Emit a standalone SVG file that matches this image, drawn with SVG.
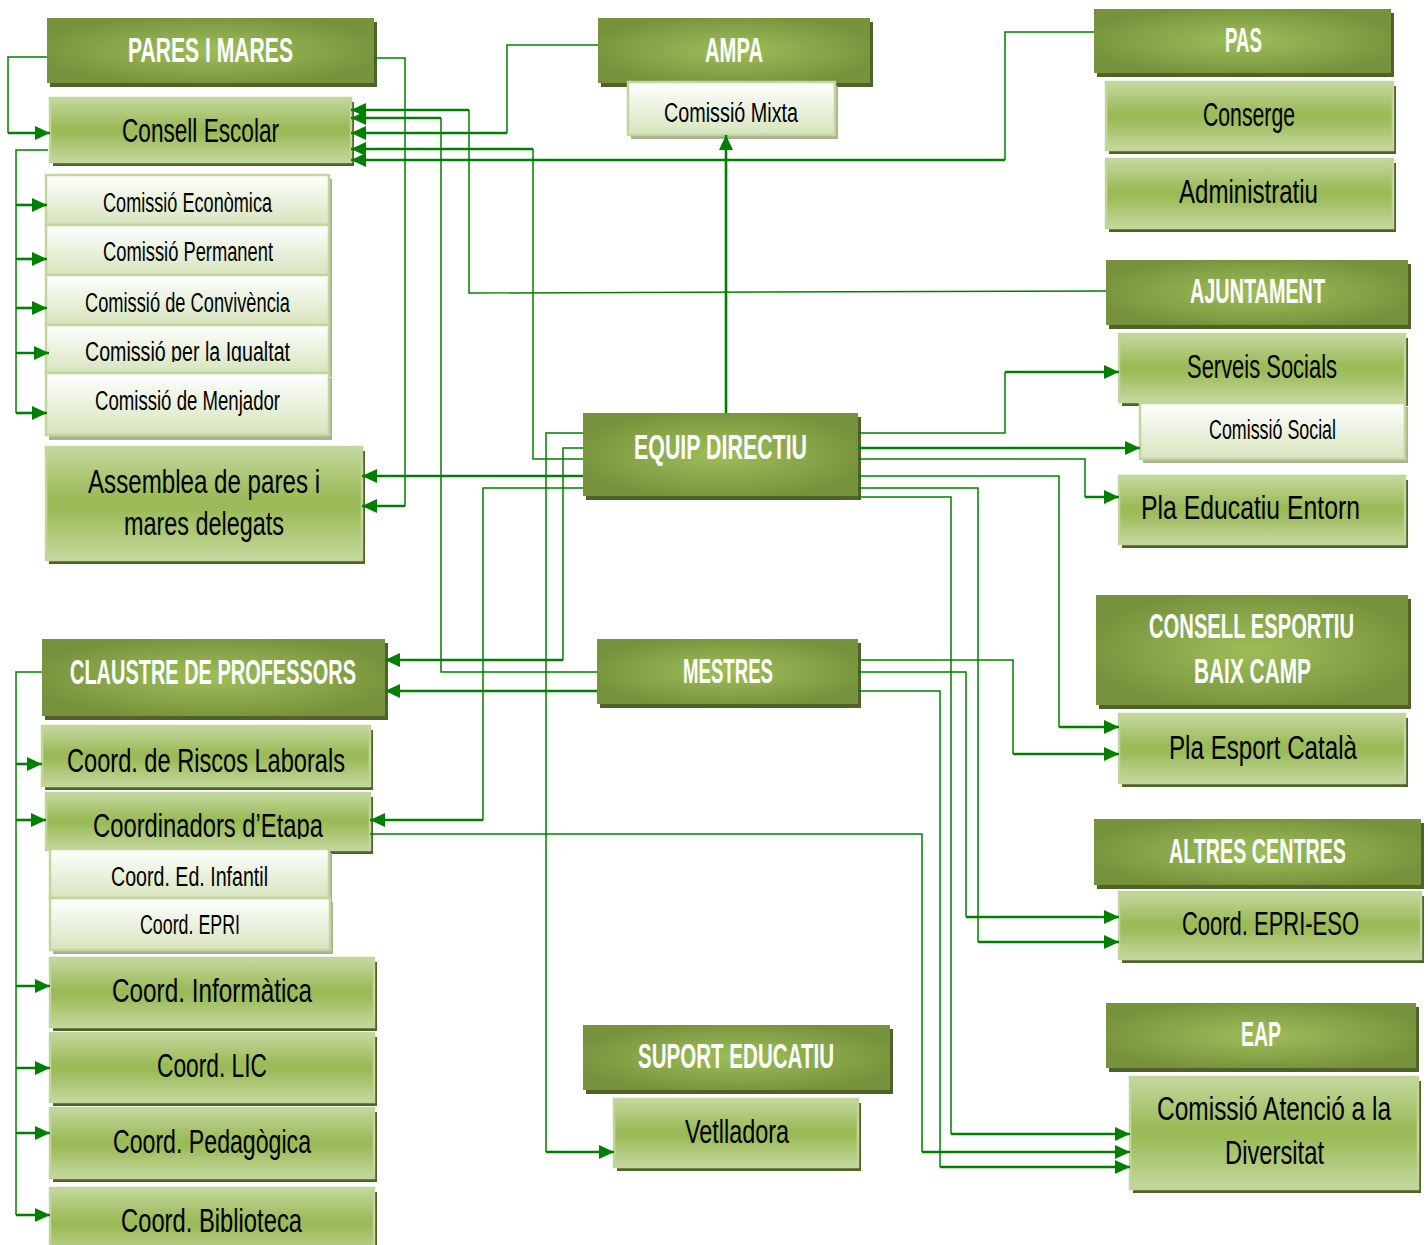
<svg xmlns="http://www.w3.org/2000/svg" width="1428" height="1245" viewBox="0 0 1428 1245">
<defs>
<radialGradient id="gDark" cx="0.5" cy="0.5" r="0.55">
<stop offset="0" stop-color="#9dbd5a"/>
<stop offset="0.25" stop-color="#94b453"/>
<stop offset="1" stop-color="#76923c"/>
</radialGradient>
<linearGradient id="gLight" x1="0" y1="0" x2="0" y2="1">
<stop offset="0" stop-color="#c4d89e"/>
<stop offset="0.45" stop-color="#9bbb59"/>
<stop offset="0.55" stop-color="#9bbb59"/>
<stop offset="1" stop-color="#c4d89e"/>
</linearGradient>
<linearGradient id="gWhite" x1="0" y1="0" x2="0" y2="1">
<stop offset="0" stop-color="#ffffff"/>
<stop offset="1" stop-color="#d7e4bd"/>
</linearGradient>
<marker id="ah" markerUnits="userSpaceOnUse" markerWidth="16" markerHeight="16" refX="15" refY="7" orient="auto">
<path d="M0,0 L15,7 L0,14 z" fill="#008000"/>
</marker>
<clipPath id="cIgu"><rect x="46" y="325" width="283" height="37"/></clipPath>
<clipPath id="cEta"><rect x="46" y="793" width="324" height="46"/></clipPath>
</defs>
<style>
.sd{fill:#4f6228}
.sw{fill:#a6b48f}
.dk{fill:url(#gDark)}
.lt{fill:url(#gLight);stroke:#c2d69b;stroke-width:2.5}
.wh{fill:url(#gWhite);stroke:#c2d69b;stroke-width:2.5}
text{font-family:"Liberation Sans",Arial,sans-serif;text-anchor:middle}
.th{fill:#ffffff;font-weight:bold;font-size:35px}
.tl{fill:#000000;font-size:33px}
.tw{fill:#000000;font-size:27px}
.ln{fill:none;stroke:#008000;stroke-width:1.5}
.ar{fill:none;stroke:#008000;stroke-width:2.6;marker-end:url(#ah)}
</style>
<rect width="1428" height="1245" fill="#ffffff"/>

<g id="pares-i-mares">
<rect class="sd" x="50" y="22" width="327" height="65"/>
<rect class="dk" x="47" y="18" width="327" height="65"/>
<text class="th" transform="translate(210.5,62) scale(0.58,1)" textLength="284.5" lengthAdjust="spacingAndGlyphs">PARES I MARES</text>
</g>
<g id="consell-escolar">
<rect class="sd" x="53" y="102" width="301" height="64"/>
<rect class="lt" x="50" y="98" width="301" height="64"/>
<text class="tl" transform="translate(200.5,142) scale(0.68,1)" textLength="230.9" lengthAdjust="spacingAndGlyphs">Consell Escolar</text>
</g>
<g id="comissio-economica">
<rect class="sw" x="49" y="179" width="283" height="50"/>
<rect class="wh" x="46" y="175" width="283" height="50"/>
<text class="tw" transform="translate(187.5,212) scale(0.68,1)" textLength="248.5" lengthAdjust="spacingAndGlyphs">Comissió Econòmica</text>
</g>
<g id="comissio-permanent">
<rect class="sw" x="49" y="229" width="283" height="50"/>
<rect class="wh" x="46" y="225" width="283" height="50"/>
<text class="tw" transform="translate(188,261) scale(0.68,1)" textLength="250" lengthAdjust="spacingAndGlyphs">Comissió Permanent</text>
</g>
<g id="comissio-convivencia">
<rect class="sw" x="49" y="279" width="283" height="50"/>
<rect class="wh" x="46" y="275" width="283" height="50"/>
<text class="tw" transform="translate(187.5,312) scale(0.68,1)" textLength="301.5" lengthAdjust="spacingAndGlyphs">Comissió de Convivència</text>
</g>
<g id="comissio-igualtat">
<rect class="sw" x="49" y="329" width="283" height="48"/>
<rect class="wh" x="46" y="325" width="283" height="48"/>
<g clip-path="url(#cIgu)">
<text class="tw" transform="translate(187.5,361) scale(0.68,1)" textLength="301.5" lengthAdjust="spacingAndGlyphs">Comissió per la Igualtat</text>
</g>
</g>
<g id="comissio-menjador">
<rect class="sw" x="49" y="378" width="283" height="62"/>
<rect class="wh" x="46" y="373" width="283" height="62"/>
<text class="tw" transform="translate(187.5,410) scale(0.68,1)" textLength="272.1" lengthAdjust="spacingAndGlyphs">Comissió de Menjador</text>
</g>
<g id="assemblea">
<rect class="sd" x="49" y="451" width="316" height="113"/>
<rect class="lt" x="46" y="447" width="316" height="113"/>
<text class="tl" transform="translate(204,493) scale(0.68,1)" textLength="341.2" lengthAdjust="spacingAndGlyphs">Assemblea de pares i</text>
<text class="tl" transform="translate(204,535) scale(0.68,1)" textLength="235.3" lengthAdjust="spacingAndGlyphs">mares delegats</text>
</g>

<g id="ampa">
<rect class="sd" x="601" y="22" width="272" height="65"/>
<rect class="dk" x="598" y="18" width="272" height="65"/>
<text class="th" transform="translate(734,62) scale(0.58,1)" textLength="100" lengthAdjust="spacingAndGlyphs">AMPA</text>
</g>
<g id="comissio-mixta">
<rect class="sw" x="631" y="86" width="207" height="53"/>
<rect class="wh" x="628" y="82" width="207" height="53"/>
<text class="tw" transform="translate(731,122) scale(0.68,1)" textLength="197.1" lengthAdjust="spacingAndGlyphs">Comissió Mixta</text>
</g>

<g id="pas">
<rect class="sd" x="1097" y="13" width="297" height="64"/>
<rect class="dk" x="1094" y="9" width="297" height="64"/>
<text class="th" transform="translate(1243.5,52) scale(0.58,1)" textLength="63.8" lengthAdjust="spacingAndGlyphs">PAS</text>
</g>
<g id="conserge">
<rect class="sd" x="1109" y="86" width="287" height="68"/>
<rect class="lt" x="1106" y="82" width="287" height="68"/>
<text class="tl" transform="translate(1249,126) scale(0.68,1)" textLength="135.3" lengthAdjust="spacingAndGlyphs">Conserge</text>
</g>
<g id="administratiu">
<rect class="sd" x="1109" y="163" width="287" height="69"/>
<rect class="lt" x="1106" y="159" width="287" height="69"/>
<text class="tl" transform="translate(1248.5,203) scale(0.68,1)" textLength="204.4" lengthAdjust="spacingAndGlyphs">Administratiu</text>
</g>

<g id="ajuntament">
<rect class="sd" x="1109" y="264" width="302" height="65"/>
<rect class="dk" x="1106" y="260" width="302" height="65"/>
<text class="th" transform="translate(1257.5,303) scale(0.58,1)" textLength="232.8" lengthAdjust="spacingAndGlyphs">AJUNTAMENT</text>
</g>
<g id="serveis-socials">
<rect class="sd" x="1122" y="338" width="286" height="68"/>
<rect class="lt" x="1119" y="334" width="286" height="68"/>
<text class="tl" transform="translate(1262,378) scale(0.68,1)" textLength="220.6" lengthAdjust="spacingAndGlyphs">Serveis Socials</text>
</g>
<g id="comissio-social">
<rect class="sw" x="1143" y="407" width="265" height="56"/>
<rect class="wh" x="1140" y="403" width="265" height="56"/>
<text class="tw" transform="translate(1272.5,439) scale(0.68,1)" textLength="186.8" lengthAdjust="spacingAndGlyphs">Comissió Social</text>
</g>
<g id="pla-educatiu-entorn">
<rect class="sd" x="1122" y="480" width="286" height="68"/>
<rect class="lt" x="1119" y="476" width="286" height="68"/>
<text class="tl" transform="translate(1250.5,519) scale(0.68,1)" textLength="322" lengthAdjust="spacingAndGlyphs">Pla Educatiu Entorn</text>
</g>

<g id="equip-directiu">
<rect class="sd" x="586" y="417" width="275" height="83"/>
<rect class="dk" x="583" y="413" width="275" height="83"/>
<text class="th" transform="translate(720.5,459) scale(0.58,1)" textLength="298.3" lengthAdjust="spacingAndGlyphs">EQUIP DIRECTIU</text>
</g>
<g id="mestres">
<rect class="sd" x="600" y="643" width="261" height="65"/>
<rect class="dk" x="597" y="639" width="261" height="65"/>
<text class="th" transform="translate(728,683) scale(0.58,1)" textLength="155.2" lengthAdjust="spacingAndGlyphs">MESTRES</text>
</g>

<g id="consell-esportiu">
<rect class="sd" x="1099" y="599" width="312" height="110"/>
<rect class="dk" x="1096" y="595" width="312" height="110"/>
<text class="th" transform="translate(1251.5,638) scale(0.58,1)" textLength="353.4" lengthAdjust="spacingAndGlyphs">CONSELL ESPORTIU</text>
<text class="th" transform="translate(1252.5,683) scale(0.58,1)" textLength="201.7" lengthAdjust="spacingAndGlyphs">BAIX CAMP</text>
</g>
<g id="pla-esport-catala">
<rect class="sd" x="1122" y="718" width="286" height="69"/>
<rect class="lt" x="1119" y="714" width="286" height="69"/>
<text class="tl" transform="translate(1263,759) scale(0.68,1)" textLength="276.5" lengthAdjust="spacingAndGlyphs">Pla Esport Català</text>
</g>
<g id="altres-centres">
<rect class="sd" x="1097" y="823" width="327" height="66"/>
<rect class="dk" x="1094" y="819" width="327" height="66"/>
<text class="th" transform="translate(1257.5,863) scale(0.58,1)" textLength="305.2" lengthAdjust="spacingAndGlyphs">ALTRES CENTRES</text>
</g>
<g id="coord-epri-eso">
<rect class="sd" x="1122" y="896" width="302" height="67"/>
<rect class="lt" x="1119" y="892" width="302" height="67"/>
<text class="tl" transform="translate(1270.5,935) scale(0.68,1)" textLength="260.3" lengthAdjust="spacingAndGlyphs">Coord. EPRI-ESO</text>
</g>
<g id="eap">
<rect class="sd" x="1109" y="1007" width="310" height="65"/>
<rect class="dk" x="1106" y="1003" width="310" height="65"/>
<text class="th" transform="translate(1261,1046) scale(0.58,1)" textLength="69" lengthAdjust="spacingAndGlyphs">EAP</text>
</g>
<g id="comissio-atencio-diversitat">
<rect class="sd" x="1133" y="1081" width="288" height="112"/>
<rect class="lt" x="1130" y="1077" width="288" height="112"/>
<text class="tl" transform="translate(1274,1120) scale(0.68,1)" textLength="344.1" lengthAdjust="spacingAndGlyphs">Comissió Atenció a la</text>
<text class="tl" transform="translate(1274.5,1164) scale(0.68,1)" textLength="145.6" lengthAdjust="spacingAndGlyphs">Diversitat</text>
</g>

<g id="suport-educatiu">
<rect class="sd" x="586" y="1029" width="307" height="65"/>
<rect class="dk" x="583" y="1025" width="307" height="65"/>
<text class="th" transform="translate(736,1068) scale(0.58,1)" textLength="337.9" lengthAdjust="spacingAndGlyphs">SUPORT EDUCATIU</text>
</g>
<g id="vetlladora">
<rect class="sd" x="617" y="1103" width="244" height="68"/>
<rect class="lt" x="614" y="1099" width="244" height="68"/>
<text class="tl" transform="translate(737,1143) scale(0.68,1)" textLength="152.9" lengthAdjust="spacingAndGlyphs">Vetlladora</text>
</g>

<g id="claustre">
<rect class="sd" x="45" y="643" width="343" height="77"/>
<rect class="dk" x="42" y="639" width="343" height="77"/>
<text class="th" transform="translate(213,684) scale(0.58,1)" textLength="493.1" lengthAdjust="spacingAndGlyphs">CLAUSTRE DE PROFESSORS</text>
</g>
<g id="coord-riscos">
<rect class="sd" x="45" y="730" width="328" height="60"/>
<rect class="lt" x="42" y="726" width="328" height="60"/>
<text class="tl" transform="translate(206,772) scale(0.68,1)" textLength="408.8" lengthAdjust="spacingAndGlyphs">Coord. de Riscos Laborals</text>
</g>
<g id="coordinadors-etapa">
<rect class="sd" x="49" y="797" width="324" height="57"/>
<rect class="lt" x="46" y="793" width="324" height="57"/>
<g clip-path="url(#cEta)">
<text class="tl" transform="translate(208,837) scale(0.68,1)" textLength="338.2" lengthAdjust="spacingAndGlyphs">Coordinadors d’Etapa</text>
</g>
</g>
<g id="coord-ed-infantil">
<rect class="sw" x="53" y="853" width="279" height="49"/>
<rect class="wh" x="50" y="849" width="279" height="49"/>
<text class="tw" transform="translate(189.5,886) scale(0.68,1)" textLength="230.9" lengthAdjust="spacingAndGlyphs">Coord. Ed. Infantil</text>
</g>
<g id="coord-epri">
<rect class="sw" x="53" y="902" width="280" height="52"/>
<rect class="wh" x="50" y="898" width="280" height="52"/>
<text class="tw" transform="translate(190,934) scale(0.68,1)" textLength="147.1" lengthAdjust="spacingAndGlyphs">Coord. EPRI</text>
</g>
<g id="coord-informatica">
<rect class="sd" x="53" y="962" width="324" height="69"/>
<rect class="lt" x="50" y="958" width="324" height="69"/>
<text class="tl" transform="translate(212,1002) scale(0.68,1)" textLength="294.1" lengthAdjust="spacingAndGlyphs">Coord. Informàtica</text>
</g>
<g id="coord-lic">
<rect class="sd" x="53" y="1037" width="324" height="69"/>
<rect class="lt" x="50" y="1033" width="324" height="69"/>
<text class="tl" transform="translate(212,1077) scale(0.68,1)" textLength="161.8" lengthAdjust="spacingAndGlyphs">Coord. LIC</text>
</g>
<g id="coord-pedagogica">
<rect class="sd" x="53" y="1112" width="324" height="70"/>
<rect class="lt" x="50" y="1108" width="324" height="70"/>
<text class="tl" transform="translate(212,1153) scale(0.68,1)" textLength="291.2" lengthAdjust="spacingAndGlyphs">Coord. Pedagògica</text>
</g>
<g id="coord-biblioteca">
<rect class="sd" x="53" y="1192" width="324" height="70"/>
<rect class="lt" x="50" y="1188" width="324" height="70"/>
<text class="tl" transform="translate(211.5,1232) scale(0.68,1)" textLength="266.2" lengthAdjust="spacingAndGlyphs">Coord. Biblioteca</text>
</g>

<g id="connectors">
<path class="ln" d="M47,57 H8 V133"/><path class="ar" d="M8,133 H50"/>
<path class="ln" d="M374,58 H405 V506"/><path class="ar" d="M405,506 H362"/>
<path class="ln" d="M48,150 H16 V413"/>
<path class="ar" d="M16,205 H47"/><path class="ar" d="M16,259 H47"/><path class="ar" d="M16,308 H47"/><path class="ar" d="M16,353 H49"/><path class="ar" d="M16,413 H47"/>
<path class="ln" d="M1106,291 L469,293 V110"/><path class="ar" d="M469,110 H351"/>
<path class="ln" d="M597,672 H441 V118"/><path class="ar" d="M441,118 H351"/>
<path class="ln" d="M598,45 H507 V133"/><path class="ar" d="M507,133 H351"/>
<path class="ln" d="M583,459 H533 V149"/><path class="ar" d="M533,149 H351"/>
<path class="ln" d="M1094,32 H1005 V160"/><path class="ar" d="M1005,160 H351"/>
<path class="ar" d="M726,413 V135"/>
<path class="ln" d="M583,433 H546 V1152"/><path class="ar" d="M546,1152 H614"/>
<path class="ln" d="M583,448 H563 V660"/><path class="ar" d="M563,660 H385"/>
<path class="ar" d="M583,476 H362"/>
<path class="ln" d="M583,488 H483 V820"/><path class="ar" d="M483,820 H370"/>
<path class="ar" d="M597,691 H385"/>
<path class="ln" d="M42,672 H16 V1215"/>
<path class="ar" d="M16,764 H42"/><path class="ar" d="M16,820 H46"/><path class="ar" d="M16,986 H50"/><path class="ar" d="M16,1068 H50"/><path class="ar" d="M16,1133 H50"/><path class="ar" d="M16,1215 H50"/>
<path class="ln" d="M370,834 H922 V1152"/><path class="ar" d="M922,1152 H1130"/>
<path class="ln" d="M858,433 H1005 V372"/><path class="ar" d="M1005,372 H1119"/>
<path class="ar" d="M858,448 H1140"/>
<path class="ln" d="M858,459 H1085 V497"/><path class="ar" d="M1085,497 H1119"/>
<path class="ln" d="M858,476 H1059 V727"/><path class="ar" d="M1059,727 H1119"/>
<path class="ln" d="M858,488 H978 V942"/><path class="ar" d="M978,942 H1119"/>
<path class="ln" d="M858,497 H951 V1134"/><path class="ar" d="M951,1134 H1130"/>
<path class="ln" d="M858,660 H1013 V754"/><path class="ar" d="M1013,754 H1119"/>
<path class="ln" d="M858,672 H966 V917"/><path class="ar" d="M966,917 H1119"/>
<path class="ln" d="M858,691 H940 V1167"/><path class="ar" d="M940,1167 H1130"/>
</g>
</svg>
